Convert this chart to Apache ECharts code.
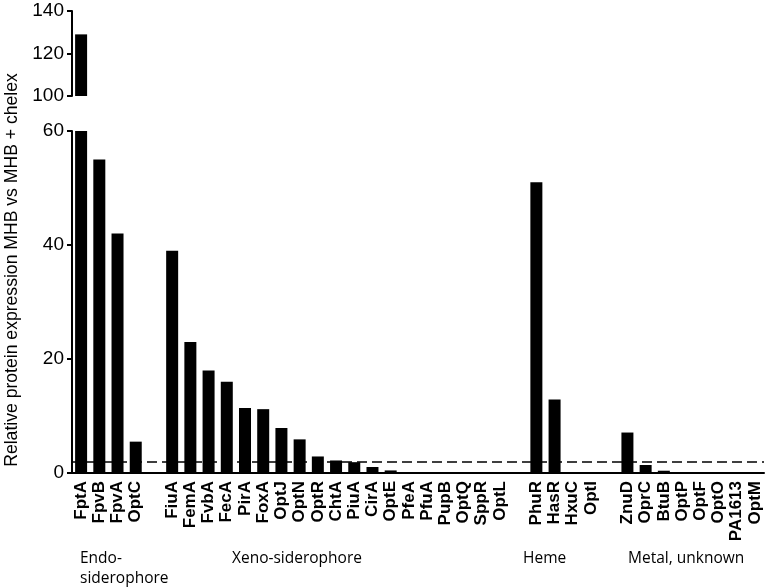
<!DOCTYPE html>
<html>
<head>
<meta charset="utf-8">
<script src="https://cdn.jsdelivr.net/npm/echarts@6/dist/echarts.min.js"></script>
<style>
html,body{margin:0;padding:0;background:#fff;}
#chart{width:766px;height:587px;}
</style>
</head>
<body>
<div id="chart"></div>
<script>
// ---- data ----
var endoNames = ['FptA','FpvB','FpvA','OptC'];
var endoValues = [129, 55, 42, 5.5];
var xenoNames = ['FiuA','FemA','FvbA','FecA','PirA','FoxA','OptJ','OptN','OptR','ChtA','PiuA','CirA','OptE','PfeA','PfuA','PupB','OptQ','SppR','OptL'];
var xenoValues = [39, 23, 18, 16, 11.4, 11.2, 7.9, 5.9, 2.9, 2.2, 1.9, 1.05, 0.45, 0, 0, 0, 0, 0, 0];
var hemeNames = ['PhuR','HasR','HxuC','OptI'];
var hemeValues = [51, 12.9, 0, 0];
var metalNames = ['ZnuD','OprC','BtuB','OptP','OptF','OptO','PA1613','OptM'];
var metalValues = [7.1, 1.4, 0.4, 0, 0, 0, 0, 0];
var thresholdValue = 2;
var lowerTicks = [0, 20, 40, 60];
var upperTicks = [100, 120, 140];
var groupLabels = ['Endo-\nsiderophore', 'Xeno-siderophore', 'Heme', 'Metal, unknown'];
var yTitle = 'Relative protein expression MHB vs MHB + chelex';

// build categories with one empty slot between groups
var categories = [].concat(endoNames, [' '], xenoNames, ['  '], hemeNames, ['   '], metalNames);
var values = [].concat(endoValues, ['-'], xenoValues, ['-'], hemeValues, ['-'], metalValues);

var chart = echarts.init(document.getElementById('chart'));
var labelFont = 'Liberation Sans, Arial, sans-serif';
var groupFont = '15.5px "Open Sans", sans-serif';

var option = {
  animation: false,
  backgroundColor: '#fff',
  grid: [
    {left: 72, right: 2, top: 11, height: 85},
    {left: 72, right: 2, top: 131, height: 342}
  ],
  xAxis: [
    {gridIndex: 0, type: 'category', data: categories, show: false},
    {gridIndex: 1, type: 'category', data: categories,
     axisLine: {lineStyle: {color: '#000', width: 2}},
     axisTick: {show: false},
     axisLabel: {interval: 0, rotate: 90, margin: 8, color: '#000',
       fontFamily: labelFont, fontWeight: 'bold', fontSize: 17}}
  ],
  yAxis: [
    {gridIndex: 0, type: 'value', min: upperTicks[0], max: upperTicks[upperTicks.length-1], interval: 20,
     splitLine: {show: false},
     axisLine: {show: true, lineStyle: {color: '#000', width: 2}},
     axisTick: {show: true, length: 5, lineStyle: {color: '#000', width: 2}},
     axisLabel: {color: '#000', fontFamily: labelFont, fontSize: 19, margin: 8}},
    {gridIndex: 1, type: 'value', min: lowerTicks[0], max: lowerTicks[lowerTicks.length-1], interval: 20,
     splitLine: {show: false},
     axisLine: {show: true, lineStyle: {color: '#000', width: 2}},
     axisTick: {show: true, length: 5, lineStyle: {color: '#000', width: 2}},
     axisLabel: {color: '#000', fontFamily: labelFont, fontSize: 19, margin: 8}}
  ],
  series: [
    {type: 'bar', xAxisIndex: 0, yAxisIndex: 0, data: values, barWidth: 12, clip: true,
     itemStyle: {color: '#000'}},
    {type: 'bar', xAxisIndex: 1, yAxisIndex: 1, data: values, barWidth: 12, clip: true,
     itemStyle: {color: '#000'},
     markLine: {silent: true, symbol: ['none','none'], label: {show: false},
       lineStyle: {color: '#000', type: [10, 5], width: 1.5},
       data: [{yAxis: thresholdValue}]}}
  ],
  graphic: [
    {type: 'text', x: 12, y: 270, rotation: Math.PI/2,
     style: {text: yTitle, fill: '#000', font: '17.6px "Liberation Sans", Arial, sans-serif',
       align: 'center', verticalAlign: 'middle'}},
    {type: 'text', left: 80, top: 549,
     style: {text: groupLabels[0], fill: '#000', font: groupFont, lineHeight: 20}},
    {type: 'text', left: 232, top: 549,
     style: {text: groupLabels[1], fill: '#000', font: groupFont, lineHeight: 20}},
    {type: 'text', left: 523, top: 549,
     style: {text: groupLabels[2], fill: '#000', font: groupFont, lineHeight: 20}},
    {type: 'text', left: 628, top: 549,
     style: {text: groupLabels[3], fill: '#000', font: groupFont, lineHeight: 20}}
  ]
};
chart.setOption(option);
</script>
</body>
</html>
